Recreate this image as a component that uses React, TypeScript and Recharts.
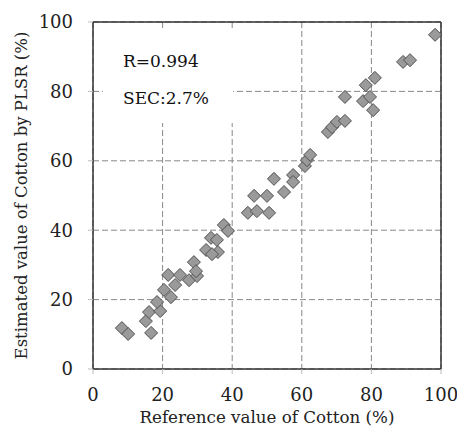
import { ScatterChart, Scatter, XAxis, YAxis, CartesianGrid, ReferenceLine } from 'recharts'

// reference value (x) vs PLSR estimate (y), in %
const referenceValues = [
  8.3, 10.1, 16.7, 15.2, 16.1, 19.3, 18.4, 20.4, 22.4, 21.6, 23.6, 25.0, 27.6, 29.0, 29.9, 29.6,
  32.5, 33.9, 35.6, 35.9, 34.2, 37.6, 38.8, 44.5, 46.3, 47.1, 50.0, 50.6, 52.0, 54.9, 57.5, 57.5,
  60.9, 61.5, 62.4, 67.5, 68.7, 70.1, 72.4, 72.4, 77.6, 79.6, 78.4, 81.0, 80.5, 89.1, 91.1, 98.3,
]
const estimatedValues = [
  11.8, 10.1, 10.4, 13.8, 16.4, 16.7, 19.3, 22.8, 20.7, 27.1, 24.2, 27.1, 25.6, 30.8, 26.8, 28.2,
  34.3, 37.8, 37.2, 33.7, 33.1, 41.5, 39.8, 45.0, 49.9, 45.5, 49.9, 45.0, 54.8, 51.0, 55.9, 53.9,
  58.5, 60.2, 61.7, 68.3, 69.7, 71.2, 71.5, 78.4, 77.2, 78.4, 81.8, 83.9, 74.6, 88.5, 89.0, 96.3,
]
const axisTicks = [0, 20, 40, 60, 80, 100]
const statLines = ['R=0.994', 'SEC:2.7%']

const data = referenceValues.map((x, i) => ({ x, y: estimatedValues[i] }))

const font = '"DejaVu Serif", serif'
const tickStyle = { fontSize: 18, fill: '#222', fontFamily: font }

function Diamond(props: any) {
  const { cx, cy } = props
  const r = 6.5
  return (
    <polygon
      points={`${cx},${cy - r} ${cx + r},${cy} ${cx},${cy + r} ${cx - r},${cy}`}
      fill="#9a9a9a"
      stroke="#505050"
      strokeWidth={1}
    />
  )
}

export default function App() {
  return (
    <div style={{ position: 'absolute', left: 0, top: 0, width: 457, height: 426, background: '#fff' }}>
      <ScatterChart width={457} height={426} margin={{ top: 22, right: 16, bottom: 0, left: 0 }}>
        <CartesianGrid stroke="#888" strokeDasharray="6 3" />
        <XAxis
          type="number"
          dataKey="x"
          domain={[0, 100]}
          ticks={axisTicks}
          height={57}
          axisLine={{ stroke: '#333', strokeWidth: 1.5 }}
          tickLine={{ stroke: '#bbb' }}
          tickSize={5}
          tickMargin={14}
          tick={tickStyle}
          label={{
            value: 'Reference value of Cotton (%)',
            position: 'insideBottom',
            offset: 3,
            style: { fontSize: 16.7, fill: '#222', fontFamily: font },
          }}
        />
        <YAxis
          type="number"
          dataKey="y"
          domain={[0, 100]}
          ticks={axisTicks}
          width={93}
          axisLine={{ stroke: '#333', strokeWidth: 1.5 }}
          tickLine={{ stroke: '#bbb' }}
          tickSize={5}
          tickMargin={15}
          tick={tickStyle}
          label={{
            value: 'Estimated value of Cotton by PLSR (%)',
            angle: -90,
            position: 'insideLeft',
            offset: 21,
            style: { fontSize: 16.5, fill: '#222', fontFamily: font, textAnchor: 'middle' },
          }}
        />
        <ReferenceLine x={100} stroke="#333" strokeWidth={1.5} />
        <ReferenceLine y={100} stroke="#333" strokeWidth={1.5} />
        <Scatter data={data} shape={Diamond} isAnimationActive={false} />
      </ScatterChart>
      <div style={{ position: 'absolute', left: 103, top: 30, width: 130, height: 93, background: '#fff' }}>
        {statLines.map((s, i) => (
          <div
            key={s}
            style={{
              position: 'absolute',
              left: 20,
              top: 23 + i * 37,
              fontFamily: font,
              fontSize: 17,
              lineHeight: 1,
              color: '#111',
              whiteSpace: 'nowrap',
            }}
          >
            {s}
          </div>
        ))}
      </div>
    </div>
  )
}
